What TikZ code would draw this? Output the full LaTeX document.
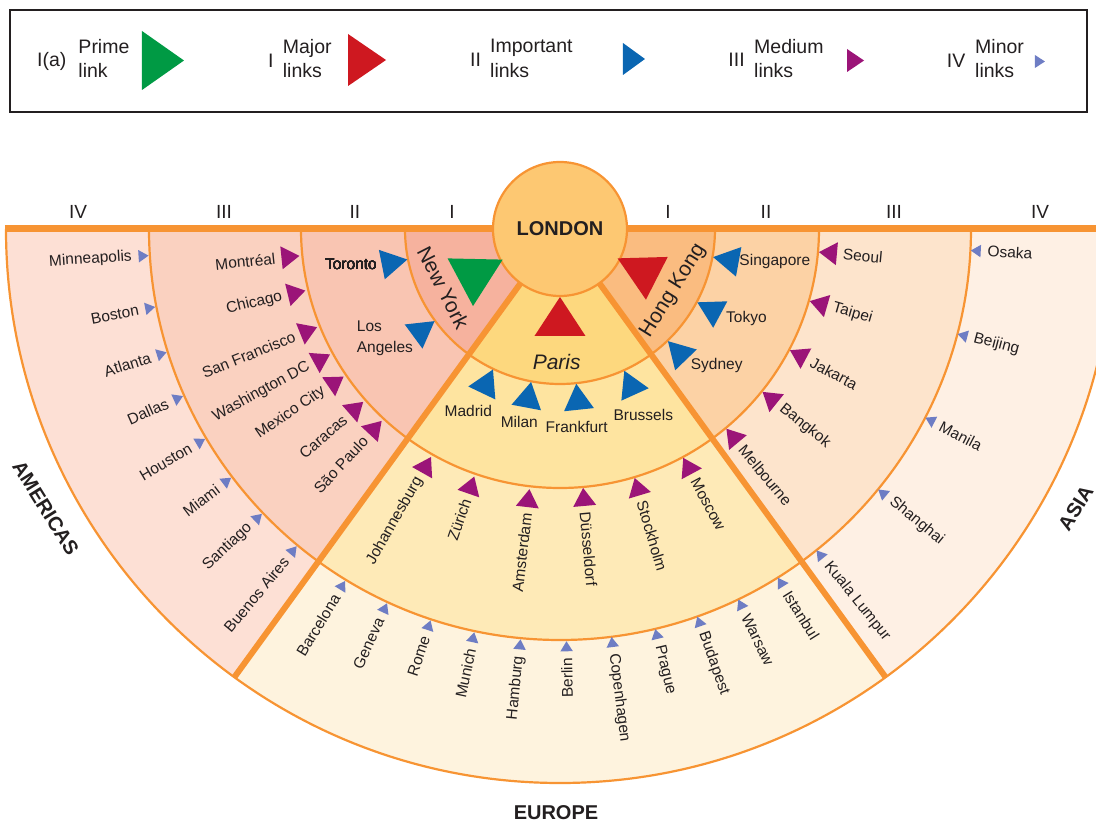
\documentclass[tikz,border=0pt]{standalone}
\usepackage{fontspec}
\setmainfont{Liberation Sans}
\usepackage{tikz}

\definecolor{ink}{RGB}{35,31,32}
\definecolor{lineorange}{RGB}{247,148,51}
\definecolor{londonfill}{RGB}{253,200,114}
\definecolor{amI}{RGB}{246,178,158}
\definecolor{amII}{RGB}{249,197,178}
\definecolor{amIII}{RGB}{250,209,192}
\definecolor{amIV}{RGB}{253,224,213}
\definecolor{euI}{RGB}{253,216,126}
\definecolor{euII}{RGB}{254,228,160}
\definecolor{euIII}{RGB}{254,234,183}
\definecolor{euIV}{RGB}{254,243,222}
\definecolor{asI}{RGB}{250,188,128}
\definecolor{asII}{RGB}{252,210,165}
\definecolor{asIII}{RGB}{253,228,204}
\definecolor{asIV}{RGB}{254,240,228}
\definecolor{prime}{RGB}{0,154,68}
\definecolor{major}{RGB}{206,24,32}
\definecolor{important}{RGB}{10,102,178}
\definecolor{medium}{RGB}{155,20,120}
\definecolor{minor}{RGB}{110,125,196}

% link marker: position, base, height, direction, colour
\newcommand{\linkmark}[5]{\fill[#5, shift={#1}, rotate=#4] (#3*2/3,0) -- (-#3/3,#2/2) -- (-#3/3,-#2/2) -- cycle;}

\begin{document}
\begin{tikzpicture}[x=1pt, y=1pt,
  city/.style={font=\fontsize{15.5}{18}\selectfont, text=ink, inner sep=0pt},
  bigcity/.style={font=\fontsize{21}{24}\selectfont, text=ink, inner sep=0pt},
  legendtext/.style={font=\fontsize{19.5}{24.5}\selectfont, text=ink, inner sep=0pt, anchor=west, align=left},
  numeral/.style={font=\fontsize{19}{22}\selectfont, text=ink, inner sep=0pt},
  region/.style={font=\bfseries\fontsize{20}{24}\selectfont, text=ink, inner sep=0pt},
  ringline/.style={draw=lineorange, line width=2.2pt},
  divider/.style={draw=lineorange, line width=6pt}]
\useasboundingbox (-560,-595) rectangle (536,229);
\clip (-560,-595) rectangle (536,229);

% legend
\draw[ink, line width=2pt] (-550,117) rectangle (527,219);
\node[legendtext] (k1) at (-523,168) {I(a)};
\node[legendtext] (k1t) at (-481.7,170.5) {Prime\\link};
\linkmark{(-404,168.5)}{59}{42}{0}{prime}
\node[legendtext] (k2) at (-292,168) {I};
\node[legendtext] (k2t) at (-277.3,170.5) {Major\\links};
\linkmark{(-199.3,169)}{52}{38}{0}{major}
\node[legendtext] (k3) at (-90,169) {II};
\node[legendtext] (k3t) at (-70,170.5) {Important\\links};
\linkmark{(70.3,170)}{32}{22}{0}{important}
\node[legendtext] (k4) at (168.3,169) {III};
\node[legendtext] (k4t) at (194,170.5) {Medium\\links};
\linkmark{(292.7,168.5)}{23}{17}{0}{medium}
\node[legendtext] (k5) at (386.7,168) {IV};
\node[legendtext] (k5t) at (415,170.5) {Minor\\links};
\linkmark{(478.3,167.5)}{13}{10}{0}{minor}

% rings and sectors
\foreach \a/\b/\reg in {180/234/am, 234/306/eu, 306/360/as}
  \foreach \rad/\ring in {554/IV, 411/III, 259/II, 155/I}
    \fill[fill=\reg\ring] (0,0) -- (\a:\rad) arc[start angle=\a, end angle=\b, radius=\rad] -- cycle;
\foreach \rad in {155,259,411,554}
  \draw[ringline] (180:\rad) arc[start angle=180, end angle=360, radius=\rad];
\draw[divider] (234:60) -- (234:554);
\draw[divider] (306:60) -- (306:554);
\draw[draw=lineorange, line width=7pt] (-555,0) -- (540,0);

\node[circle, draw=lineorange, line width=2.2pt, fill=londonfill, minimum size=134pt, inner sep=0pt,
  font=\bfseries\fontsize{20}{24}\selectfont, text=ink] (lon) at (0,0) {LONDON};

\foreach \x/\lab [count=\i] in {-482/IV, -336/III, -205/II, -108/I, 108/I, 206/II, 334/III, 480/IV}
  \node[numeral] (num\i) at (\x,17) {\lab};

% ring I
\linkmark{(208.1:97)}{54}{48}{28.1}{prime}
\linkmark{(-27:94)}{48}{44}{153}{major}
\linkmark{(270:94)}{51}{39}{90}{major}
\node[bigcity, rotate=-63] (ny) at (-116.7,-58.5) {New York};
\node[bigcity, rotate=58] (hk) at (113.3,-61.8) {Hong Kong};
\node[bigcity, font=\itshape\fontsize{21}{24}\selectfont] (par) at (-3.3,-132.7) {Paris};

% ring II
\foreach \a in {191.3, 216.3, 244.5, 259.3, 276, 294.4, 313.9, 331.9, 349.6}
  \linkmark{(\a:173)}{30}{26}{\a+180}{important}
\node[city, anchor=east] (tor) at (-183,-35) {Toronto};
\node[city, anchor=west, align=left, font=\fontsize{15.5}{21}\selectfont] (la) at (-203.3,-109) {Los\\Angeles};
\node[city] (mad) at (-91.7,-181.7) {Madrid};
\node[city] (mil) at (-40.7,-192.7) {Milan};
\node[city] (fra) at (16.7,-197.7) {Frankfurt};
\node[city] (bru) at (83.3,-186) {Brussels};
\node[city, anchor=west] (sin) at (179.3,-32.7) {Singapore};
\node[city, anchor=west] (tok) at (166,-89.3) {Tokyo};
\node[city, anchor=west] (syd) at (130.7,-136.7) {Sydney};

% ring III
\foreach \a/\city [count=\i] in {185.9/Montréal, 193.6/Chicago, 202/San Francisco, 208.6/Washington DC,
    214.3/Mexico City, 221.3/Caracas, 227.1/São Paulo, 240.5/Johannesburg, 250.9/Zürich, 263.3/Amsterdam}{
  \linkmark{(\a:274)}{23}{18}{\a+180}{medium}
  \node[city, anchor=east, rotate=\a-180] (medw\i) at (\a:286) {\city};
}
\foreach \a/\city [count=\i] in {275.1/Düsseldorf, 286.7/Stockholm, 298.3/Moscow, 309.8/Melbourne,
    321.2/Bangkok, 332.2/Jakarta, 343.9/Taipei, 354.9/Seoul}{
  \linkmark{(\a:272)}{23}{18}{\a+180}{medium}
  \node[city, anchor=west, rotate=\a] (mede\i) at (\a:284) {\city};
}

% ring IV
\foreach \a/\city [count=\i] in {183.7/Minneapolis, 190.9/Boston, 197.4/Atlanta, 203.9/Dallas, 210.6/Houston,
    217.1/Miami, 223.7/Santiago, 230.3/Buenos Aires, 238.6/Barcelona, 245.2/Geneva, 251.7/Rome,
    258.0/Munich, 264.5/Hamburg, 270.9/Berlin}{
  \linkmark{(\a:419)}{12.5}{10}{\a+180}{minor}
  \node[city, anchor=east, rotate=\a-180] (minw\i) at (\a:429) {\city};
}
\foreach \a/\city [count=\i] in {277.2/Copenhagen, 283.4/Prague, 289.5/Budapest, 295.7/Warsaw, 302.0/Istanbul,
    308.6/Kuala Lumpur, 320.7/Shanghai, 332.7/Manila, 345.2/Beijing, 357.0/Osaka}{
  \linkmark{(\a:418)}{12.5}{10}{\a+180}{minor}
  \node[city, anchor=west, rotate=\a] (mine\i) at (\a:428) {\city};
}

% regions
\node[region, rotate=-58] (amer) at (-514.2,-279.3) {AMERICAS};
\node[region, rotate=58] (asia) at (515.8,-279.3) {ASIA};
\node[region] (eur) at (-4,-584) {EUROPE};
\end{tikzpicture}
\end{document}
